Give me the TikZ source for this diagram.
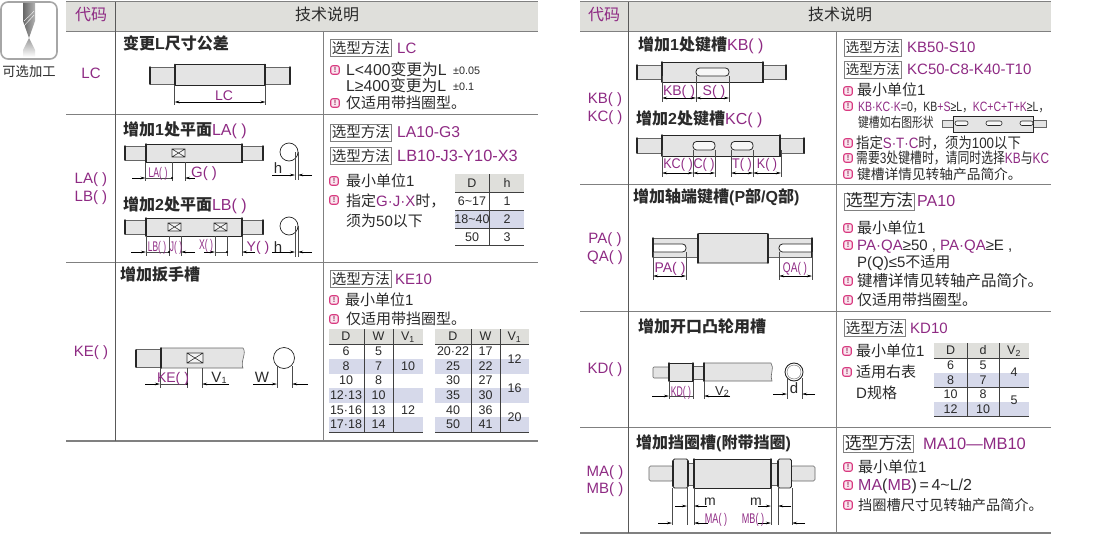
\documentclass[tikz,border=0pt]{standalone}
\usepackage{fontspec}
\setmainfont{Liberation Sans}
\newfontfamily\cjk{Noto Sans CJK SC}
\usetikzlibrary{arrows.meta, shadings}
\definecolor{mg}{HTML}{8E2A83}
\definecolor{hd}{HTML}{DFDFDB}
\definecolor{rl}{HTML}{808080}
\definecolor{lv}{HTML}{D6D9EA}
\definecolor{sg}{HTML}{E4E4E4}
\definecolor{pk}{HTML}{D93A80}
\definecolor{tx}{HTML}{2A2A2A}
\newcommand{\zh}[1]{{\cjk #1}}
\newcommand{\mgt}[1]{\textcolor{mg}{#1}}
\tikzset{
    base/.style={inner sep=0pt, text=tx, text height=11pt, text depth=1pt, font=\fontsize{15}{17}\selectfont},
    lbl/.style={base, anchor=west},
    code/.style={base, text=mg},
    head/.style={base, font=\fontsize{16}{18}\selectfont},
    title/.style={lbl, font=\fontsize{16}{18}\selectfont\bfseries},
    part/.style={lbl, text=mg, font=\fontsize{#1}{17}\selectfont},
    selbox/.style={base, anchor=west, draw=rl, line width=0.8pt, inner xsep=1.5pt, inner ysep=2.5pt, font=\fontsize{#1}{17}\selectfont},
    noteicon/.style={draw=pk, fill=pk!12, line width=1.1pt, rounded corners=2pt, minimum width=8.5pt, minimum height=8.5pt, inner sep=0pt, text=pk!70!black, font=\fontsize{7.5}{7}\selectfont\bfseries},
    dimlbl/.style={base, text=mg, font=\fontsize{14}{15}\selectfont},
    narrow/.style={xscale=#1, transform shape},
    narrow/.default=0.72,
    cell/.style={base, text height=9pt, text depth=1pt, font=\fontsize{12.5}{14}\selectfont},
    tol/.style={lbl, text height=8pt, font=\fontsize{10.8}{12}\selectfont},
    shaft/.style={fill=sg, draw=black!85, line width=0.9pt},
    shaftp/.style={fill=sg, draw=black!60, line width=0.6pt},
    shaftend/.style={draw=black!85, line width=1.5pt, line cap=round},
    slot/.style={fill=white!70!sg, draw=black!85, line width=0.8pt, rounded corners=3.5pt},
    flat/.style={draw=black!80, fill=white!60!sg, line width=0.6pt},
    extl/.style={draw=black!70, line width=0.4pt},
    dim/.style={draw=black, line width=0.5pt, -{Stealth[length=5pt,width=2.5pt]}},
    dimb/.style={draw=black, line width=0.5pt, {Stealth[length=5pt,width=2.5pt]}-{Stealth[length=5pt,width=2.5pt]}},
    rule/.style={draw=rl, line width=1pt},
    tline/.style={draw=black!75, line width=0.7pt},
}
\begin{document}
\begin{tikzpicture}[x=1pt,y=-1pt]
    \useasboundingbox (0,0) rectangle (1110,535);

    % Drill icon
    \draw[rounded corners=7pt, draw=black!35, fill=white, line width=1.6pt] (1,2) rectangle (57,59);
    \shade[left color=black!60, right color=black!30] (23,3) -- (35,3) -- (35,21) -- (29,38) -- (23,21) -- cycle;
    \draw[white, line width=0.4pt] (24,26) .. controls (28,21) and (31,19) .. (34,15);
    \draw[white, line width=0.4pt] (24,21) .. controls (28,17) and (31,15) .. (34,11);
    \shade[top color=black!40, bottom color=white] (29,38) -- (35,50) -- (35,57) -- (23,57) -- (23,50) -- cycle;
    \node[base, font=\fontsize{13.3}{15}\selectfont] (iconName) at (29,71) {\zh{可选加工}};

    % Left table frame
    \fill[hd] (66,2) rectangle (538,31);
    \draw[rule] (66,2) -- (538,2);
    \draw[rule] (66,31.5) -- (538,31.5);
    \draw[rule] (66,114) -- (538,114);
    \draw[rule] (66,262) -- (538,262);
    \draw[rule, line width=1.3pt] (66,441) -- (538,441);
    \draw[rule, draw=black!65] (115,2) -- (115,441);
    \draw[rule] (323,31) -- (323,441);
    \node[code, font=\fontsize{16}{18}\selectfont] (leftCode) at (91,16) {\zh{代码}};
    \node[head] (leftTech) at (327,16) {\zh{技术说明}};

    % Right table frame
    \fill[hd] (580,2) rectangle (1051,31);
    \draw[rule] (580,2) -- (1051,2);
    \draw[rule] (580,31.5) -- (1051,31.5);
    \draw[rule] (580,184) -- (1051,184);
    \draw[rule] (580,311) -- (1051,311);
    \draw[rule] (580,427) -- (1051,427);
    \draw[rule, line width=1.3pt] (580,533) -- (1051,533);
    \draw[rule, draw=black!65] (628,2) -- (628,533);
    \draw[rule] (836,31) -- (836,533);
    \node[code, font=\fontsize{16}{18}\selectfont] (rightCode) at (604,16) {\zh{代码}};
    \node[head] (rightTech) at (840,16) {\zh{技术说明}};

    % Row LC
    \node[code] (codeLC) at (91,73) {LC};
    \node[title] (titleLC) at (123,45) {\zh{变更}L\zh{尺寸公差}};
    \draw[shaftp] (150,67) rectangle (175,84);
    \draw[shaftp] (265,67) rectangle (290,84);
    \draw[shaft] (175,64.5) rectangle (265,85);
    \foreach \x/\a/\b in {150/67/84,175/64.5/85,265/64.5/85,290/67/84} {
            \draw[shaftend] (\x,\a) -- (\x,\b);
        }
    \draw[extl] (174.5,85) -- (174.5,105);
    \draw[extl] (265.5,85) -- (265.5,105);
    \draw[dimb] (174.5,102) -- (265.5,102);
    \node[dimlbl] (dimLC) at (224,95) {LC};
    \node[selbox=14.5] (selLC) at (330,48) {\zh{选型方法}};
    \node[part=15] (partLC) at (397,48) {LC};
    \node[noteicon] (iconLCa) at (335,70) {!};
    \node[lbl, font=\fontsize{15.8}{17}\selectfont] (noteLCa) at (346,70) {L<400\zh{变更为}L};
    \node[tol] (tolLCa) at (453,71) {±0.05};
    \node[lbl, font=\fontsize{15.8}{17}\selectfont] (noteLCb) at (346,86) {L≥400\zh{变更为}L};
    \node[tol] (tolLCb) at (453,87) {±0.1};
    \node[noteicon] (iconLCc) at (335,103) {!};
    \node[lbl] (noteLCc) at (346,103) {\zh{仅适用带挡圈型。}};

    % Row LA / LB
    \node[code] (codeLA) at (91,178) {LA( )};
    \node[code] (codeLB) at (91,196) {LB( )};
    \node[title] (titleLA) at (123,130) {\zh{增加}1\zh{处平面}\textcolor{mg}{\mdseries LA( )}};
    \draw[shaftp] (125,146) rectangle (146,160);
    \draw[shaftp] (242,146) rectangle (263,160);
    \draw[shaft] (146,144) rectangle (242,162);
    \foreach \x/\a/\b in {125/146/160,146/144/162,242/144/162,263/146/160} {
            \draw[shaftend] (\x,\a) -- (\x,\b);
        }
    \draw[flat] (172,149) rectangle (185,157) (172,149) -- (185,157) (172,157) -- (185,149);
    \foreach \x in {145.5,172,185} {
            \draw[extl] (\x,162) -- (\x,181);
        }
    \draw[dim] (132,178) -- (145.5,178);
    \draw[extl] (145.5,178) -- (172,178);
    \fill (172,178) circle (1.2);
    \draw[dim] (195,178) -- (185,178);
    \node[dimlbl, narrow=0.62] (dimLA) at (158,172) {LA( )};
    \node[dimlbl, font=\fontsize{15}{15}\selectfont] (dimG) at (204,172) {G( )};
    \draw[shaft, fill=white, line width=0.7pt] (289,152) circle (9);
    \draw[extl] (295,152) -- (295,180);
    \draw[extl] (298,152) -- (298,180);
    \draw[dim] (272,175) -- (295,175);
    \draw[dim] (312,175) -- (298,175);
    \node[base] (dimHa) at (278,168) {h};

    \node[title] (titleLB) at (123,205) {\zh{增加}2\zh{处平面}\textcolor{mg}{\mdseries LB( )}};
    \draw[shaftp] (125,220) rectangle (146,234);
    \draw[shaftp] (242,220) rectangle (263,234);
    \draw[shaft] (146,218) rectangle (242,236);
    \foreach \x/\a/\b in {125/220/234,146/218/236,242/218/236,263/220/234} {
            \draw[shaftend] (\x,\a) -- (\x,\b);
        }
    \foreach \x in {168,214} {
            \draw[flat] (\x,223) rectangle (\x+13,231) (\x,223) -- (\x+13,231) (\x,231) -- (\x+13,223);
        }
    \foreach \x in {146,169,181,215,227,242} {
            \draw[extl] (\x,236) -- (\x,256);
        }
    \draw[dim] (131,252) -- (146,252);
    \draw[extl] (146,252) -- (169,252);
    \fill (169,252) circle (1.2);
    \draw[dim] (195,252) -- (181,252);
    \draw[dim] (204,252) -- (215,252);
    \draw[extl] (215,252) -- (227,252);
    \fill (227,252) circle (1.2);
    \draw[dim] (255,252) -- (242,252);
    \node[dimlbl, narrow=0.6] (dimLB) at (157,246) {LB( )};
    \node[dimlbl, narrow=0.6] (dimJ) at (176,246) {J( )};
    \node[dimlbl, narrow=0.62] (dimX) at (206,244) {X( )};
    \node[dimlbl] (dimY) at (258,246) {Y( )};
    \draw[shaft, fill=white, line width=0.7pt] (289,226) circle (9);
    \draw[extl] (295,226) -- (295,257);
    \draw[extl] (298,226) -- (298,257);
    \draw[dim] (272,252) -- (295,252);
    \draw[dim] (312,252) -- (298,252);
    \node[base] (dimHb) at (278,247) {h};

    \node[selbox=14.5] (selLA) at (330,132.5) {\zh{选型方法}};
    \node[part=15.7] (partLA) at (397,132.5) {LA10-G3};
    \node[selbox=14.5] (selLB) at (330,156) {\zh{选型方法}};
    \node[part=16.3] (partLB) at (397,156) {LB10-J3-Y10-X3};
    \node[noteicon] (iconLAa) at (334,181) {!};
    \node[lbl] (noteLAa) at (346,181) {\zh{最小单位}1};
    \node[noteicon] (iconLAb) at (334,200) {!};
    \node[lbl] (noteLAb) at (346,201) {\zh{指定}\mgt{G·J·X}\zh{时，}};
    \node[lbl] (noteLAc) at (346,221) {\zh{须为}50\zh{以下}};

    % Table D / h
    \fill[hd] (455,174) rectangle (524,192);
    \fill[lv] (455,210) rectangle (524,228);
    \foreach \y in {192,210,228,245} {
            \draw[tline] (455,\y) -- (524,\y);
        }
    \draw[tline] (489,174) -- (489,245);
    \node[cell] (hdD) at (472,183) {D};
    \node[cell] (hdH) at (507,183) {h};
    \foreach \y/\d/\h [count=\i] in {201/6\textasciitilde17/1, 219/18\textasciitilde40/2, 237/50/3} {
            \node[cell] (hD\i) at (472,\y) {\d};
            \node[cell] (hH\i) at (507,\y) {\h};
        }

    % Row KE
    \node[code] (codeKE) at (91,351) {KE( )};
    \node[title] (titleKE) at (120,275) {\zh{增加扳手槽}};
    \draw[shaftp] (136,349.5) rectangle (162,367);
    \draw[shaftp] (161,348) -- (243,348) .. controls (247,353) and (240,362) .. (243,368) -- (161,368) -- cycle;
    \foreach \x/\a/\b in {136/350/367,161/348/368} {
            \draw[shaftend] (\x,\a) -- (\x,\b);
        }
    \draw[flat] (187,353) rectangle (203,363) (187,353) -- (203,363) (187,363) -- (203,353);
    \foreach \x in {160,187,202} {
            \draw[extl] (\x,368) -- (\x,388);
        }
    \draw[dim] (145,384) -- (160,384);
    \draw[extl] (160,384) -- (187,384);
    \fill (187,384) circle (1.2);
    \draw[dim] (229,384) -- (202,384);
    \node[dimlbl] (dimKE) at (173,377) {KE( )};
    \node[base] (dimV) at (219,377) {V\raisebox{-1pt}{\fontsize{9}{9}\selectfont 1}};
    \draw[shaft, fill=white, line width=0.7pt] (284,358) circle (10.5);
    \draw[extl] (277,366) -- (277,388);
    \draw[extl] (292,366) -- (292,388);
    \draw[dim] (253,384) -- (277,384);
    \draw[dim] (308,384) -- (292,384);
    \node[base] (dimW) at (262,377) {W};
    \node[selbox=14.5] (selKE) at (330,279) {\zh{选型方法}};
    \node[part=15] (partKE) at (395,279) {KE10};
    \node[noteicon] (iconKEa) at (334,300) {!};
    \node[lbl] (noteKEa) at (345,300) {\zh{最小单位}1};
    \node[noteicon] (iconKEb) at (334,319) {!};
    \node[lbl] (noteKEb) at (346,319) {\zh{仅适用带挡圈型。}};

    % Tables D / W / V1
    \foreach \xa/\xb/\xc/\xd in {329/364/393/423, 435/471/500/529} {
            \fill[hd] (\xa,329) rectangle (\xd,344);
            \foreach \y in {359,388,417} {
                    \fill[lv] (\xa,\y) rectangle (\xd,\y+14.5);
                }
            \draw[tline] (\xa,344) -- (\xd,344);
            \draw[tline] (\xa,432) -- (\xd,432);
            \draw[tline] (\xb,329) -- (\xb,432);
            \draw[tline] (\xc,329) -- (\xc,432);
        }
    \foreach \x/\t [count=\i] in {346/D, 378.5/W, 408/V\textsubscript{1}, 453/D, 485.5/W, 514.5/V\textsubscript{1}} {
            \node[cell] (keyHd\i) at (\x,336.5) {\t};
        }
    \foreach \y/\d/\w [count=\i] in {351.5/6/5, 366/8/7, 380.5/10/8, 395/12·13/10, 410/15·16/13, 424.5/17·18/14} {
            \node[cell] (keyD\i) at (346,\y) {\d};
            \node[cell] (keyW\i) at (378.5,\y) {\w};
        }
    \foreach \y/\d/\w [count=\i] in {351.5/20·22/17, 366/25/22, 380.5/30/27, 395/35/30, 410/40/36, 424.5/50/41} {
            \node[cell] (keyDd\i) at (453,\y) {\d};
            \node[cell] (keyWw\i) at (485.5,\y) {\w};
        }
    \node[cell] (keyVa) at (408,366) {10};
    \node[cell] (keyVb) at (408,410) {12};
    \node[cell] (keyVc) at (514.5,359) {12};
    \node[cell] (keyVd) at (514.5,388) {16};
    \node[cell] (keyVe) at (514.5,417) {20};

    % Row KB / KC
    \node[code] (codeKB) at (605,98) {KB( )};
    \node[code] (codeKC) at (605,116) {KC( )};
    \node[title] (titleKB) at (638,46) {\zh{增加}1\zh{处键槽}\textcolor{mg}{\mdseries KB( )}};
    \draw[shaftp] (637,65) rectangle (662,79.5);
    \draw[shaftp] (763,65) rectangle (786,79.5);
    \draw[shaft] (662,62) rectangle (763,82);
    \foreach \x/\a/\b in {637/65/79.5,662/62/82,763/62/82,786/65/79.5} {
            \draw[shaftend] (\x,\a) -- (\x,\b);
        }
    \draw[slot] (696,68) rectangle (729,76);
    \foreach \x in {662,696,729} {
            \draw[extl] (\x,76) -- (\x,102);
        }
    \draw[dimb] (662,98) -- (696,98);
    \draw[dimb] (696,98) -- (729,98);
    \node[dimlbl] (dimKB) at (679,90) {KB( )};
    \node[dimlbl] (dimS) at (714,90) {S( )};

    \node[title] (titleKC) at (636,119) {\zh{增加}2\zh{处键槽}\textcolor{mg}{\mdseries KC( )}};
    \draw[shaftp] (637,138) rectangle (662,153);
    \draw[shaftp] (780,138) rectangle (804,153);
    \draw[shaft] (662,135) rectangle (780,156);
    \foreach \x/\a/\b in {637/138/153,662/135/156,780/135/156,804/138/153} {
            \draw[shaftend] (\x,\a) -- (\x,\b);
        }
    \draw[slot] (693,141.5) rectangle (715,150);
    \draw[slot] (731,141.5) rectangle (753,150);
    \foreach \x in {662,693,715,731,753,781} {
            \draw[extl] (\x,150) -- (\x,177);
        }
    \foreach \a/\b in {662/693,693/715,731/753,753/781} {
            \draw[dimb] (\a,173) -- (\b,173);
        }
    \node[dimlbl, narrow=0.9] (dimKC) at (678,163) {KC( )};
    \node[dimlbl, narrow=0.9] (dimC) at (704,163) {C( )};
    \node[dimlbl, narrow=0.9] (dimT) at (742,163) {T( )};
    \node[dimlbl, narrow=0.9] (dimK) at (767,163) {K( )};

    \node[selbox=13.5] (selKB) at (844,47.5) {\zh{选型方法}};
    \node[part=15] (partKB) at (907,47.5) {KB50-S10};
    \node[selbox=13.5] (selKC) at (844,69.5) {\zh{选型方法}};
    \node[part=15] (partKC) at (907,69.5) {KC50-C8-K40-T10};
    \node[noteicon] (iconKBa) at (848,91) {!};
    \node[lbl] (noteKBa) at (857,90) {\zh{最小单位}1};
    \node[noteicon] (iconKBb) at (848,106) {!};
    \node[lbl, narrow=0.78, text=mg, font=\fontsize{13.5}{15}\selectfont] (noteKBb) at (858,106) {KB·KC·K\textcolor{tx}{=0\zh{，}KB}+S\textcolor{tx}{≥L\zh{，}}KC+C+T+K\textcolor{tx}{≥L\zh{，}}};
    \node[lbl, narrow=0.8, font=\fontsize{13.5}{15}\selectfont] (noteKBc) at (858,122) {\zh{键槽如右图形状}};
    \draw[shaftp] (942,120) rectangle (953,127);
    \draw[shaftp] (1033,120) rectangle (1046,127);
    \draw[shaft, line width=0.6pt] (953,116) rectangle (1033,132);
    \draw[slot, line width=0.6pt, rounded corners=2pt] (955,121) rectangle (968,125.5);
    \draw[slot, line width=0.6pt, rounded corners=2pt] (986,121) rectangle (1002,125.5);
    \draw[slot, line width=0.6pt, rounded corners=2pt] (1020,121) rectangle (1033,125.5);
    \node[noteicon] (iconKBd) at (848,143) {!};
    \node[lbl, narrow=0.89] (noteKBd) at (856,143) {\zh{指定}\mgt{S·T·C}\zh{时，须为}100\zh{以下}};
    \node[noteicon] (iconKBe) at (848,158) {!};
    \node[lbl, narrow=0.79] (noteKBe) at (856,158) {\zh{需要}3\zh{处键槽时，请同时选择}\mgt{KB}\zh{与}\mgt{KC}};
    \node[noteicon] (iconKBf) at (848,174) {!};
    \node[lbl, font=\fontsize{13.7}{16}\selectfont] (noteKBf) at (857,174) {\zh{键槽详情见转轴产品简介。}};

    % Row PA / QA
    \node[code] (codePA) at (605,238) {PA( )};
    \node[code] (codeQA) at (605,256) {QA( )};
    \node[title] (titlePA) at (633,197) {\zh{增加轴端键槽}(P\zh{部}/Q\zh{部})};
    \draw[shaftp] (653,238) rectangle (698,257);
    \draw[shaftp] (768,238) rectangle (812,257);
    \draw[slot, fill=white] (653,244) -- (686,244) -- (686,252) -- (653,252);
    \draw[slot, fill=white] (812,244) -- (779,244) -- (779,252) -- (812,252);
    \draw[shaft, rounded corners=1pt] (698,233.5) rectangle (768,263);
    \foreach \x/\a/\b in {653/238/257,698/234/263,768/234/263,812/238/257} {
            \draw[shaftend] (\x,\a) -- (\x,\b);
        }
    \foreach \x in {653,686} {
            \draw[extl] (\x,252) -- (\x,280);
        }
    \foreach \x in {779,812} {
            \draw[extl] (\x,252) -- (\x,280);
        }
    \draw[dimb] (653,276) -- (686,276);
    \draw[dimb] (779,276) -- (812,276);
    \node[dimlbl] (dimPA) at (670,267) {PA( )};
    \node[dimlbl, narrow] (dimQA) at (795,267) {QA( )};
    \node[selbox=16.8] (selPA) at (844,201.5) {\zh{选型方法}};
    \node[part=16] (partPA) at (917,201.5) {PA10};
    \node[noteicon] (iconPAa) at (848,228) {!};
    \node[lbl] (notePAa) at (857,228) {\zh{最小单位}1};
    \node[noteicon] (iconPAb) at (848,245) {!};
    \node[lbl] (notePAb) at (857,245) {\mgt{PA·QA}≥50 , \mgt{PA·QA}≥E ,};
    \node[lbl] (notePAc) at (857,262) {P(Q)≤5\zh{不适用}};
    \node[noteicon] (iconPAd) at (848,281) {!};
    \node[lbl, font=\fontsize{15.5}{17}\selectfont] (notePAd) at (857,281) {\zh{键槽详情见转轴产品简介。}};
    \node[noteicon] (iconPAe) at (848,300) {!};
    \node[lbl] (notePAe) at (857,300) {\zh{仅适用带挡圈型。}};

    % Row KD
    \node[code] (codeKD) at (605,368) {KD( )};
    \node[title] (titleKD) at (638,327) {\zh{增加开口凸轮用槽}};
    \draw[shaftp, rounded corners=1pt] (653,367) rectangle (669,378);
    \draw[shaft] (669,363) rectangle (693,381);
    \draw[shaftp] (693,366) rectangle (704,379);
    \draw[shaftp] (704,363) -- (771,363) .. controls (775,368) and (769,376) .. (772,381) -- (704,381) -- cycle;
    \foreach \x/\a/\b in {669/363/381,693/363/381,704/363/381} {
            \draw[shaftend] (\x,\a) -- (\x,\b);
        }
    \foreach \x in {669,693,704} {
            \draw[extl] (\x,381) -- (\x,399);
        }
    \draw[dim] (652,396) -- (669,396);
    \draw[extl] (669,396) -- (693,396);
    \draw[dim] (730,396) -- (704,396);
    \node[dimlbl, narrow=0.62] (dimKD) at (681,391) {KD( )};
    \node[base, font=\fontsize{13}{15}\selectfont] (dimVb) at (722,390) {V\raisebox{-1pt}{\fontsize{9}{9}\selectfont 2}};
    \draw[shaft, line width=0.9pt, fill=white] (794,372) circle (9);
    \draw[draw=black!60] (794,372) circle (7);
    \draw[extl] (787,378) -- (787,399);
    \draw[extl] (802,378) -- (802,399);
    \draw[dim] (773,394) -- (787,394);
    \draw[dim] (815,394) -- (802,394);
    \node[base, font=\fontsize{15}{15}\selectfont] (dimD) at (794,388) {d};
    \node[selbox=14.5] (selKD) at (844,328) {\zh{选型方法}};
    \node[part=15] (partKD) at (910,328) {KD10};
    \node[noteicon] (iconKDa) at (847,351) {!};
    \node[lbl] (noteKDa) at (856,351) {\zh{最小单位}1};
    \node[noteicon] (iconKDb) at (847,372) {!};
    \node[lbl] (noteKDb) at (856,372) {\zh{适用右表}};
    \node[lbl] (noteKDc) at (856,393) {D\zh{规格}};

    % Table D / d / V2
    \fill[hd] (934,343) rectangle (1029,358);
    \foreach \y in {373,402} {
            \fill[lv] (934,\y) rectangle (1029,\y+14);
        }
    \draw[tline] (934,358) -- (1029,358);
    \draw[tline] (934,387) -- (1029,387);
    \draw[tline] (934,416) -- (1029,416);
    \draw[tline] (967,343) -- (967,416);
    \draw[tline] (999,343) -- (999,416);
    \node[cell] (kdHdD) at (950.5,350.5) {D};
    \node[cell] (kdHdd) at (983,350.5) {d};
    \node[cell] (kdHdV) at (1014,350.5) {V\textsubscript{2}};
    \foreach \y/\d/\w [count=\i] in {365.5/6/5, 380/8/7, 394.5/10/8, 409/12/10} {
            \node[cell] (kdD\i) at (950.5,\y) {\d};
            \node[cell] (kdW\i) at (983,\y) {\w};
        }
    \node[cell] (kdVa) at (1014,372) {4};
    \node[cell] (kdVb) at (1014,400) {5};

    % Row MA / MB
    \node[code] (codeMA) at (605,471) {MA( )};
    \node[code] (codeMB) at (605,488) {MB( )};
    \node[title] (titleMA) at (636,443) {\zh{增加挡圈槽}(\zh{附带挡圈})};
    \draw[shaftp, rounded corners=1.5pt] (649,466) rectangle (673,481);
    \draw[shaftp, rounded corners=1.5pt] (791,466) rectangle (815,481);
    \draw[shaftp] (688,463) rectangle (694,485);
    \draw[shaftp] (771,463) rectangle (778,485);
    \draw[shaft, rounded corners=1.5pt] (673,459) rectangle (688,488);
    \draw[shaft, rounded corners=1.5pt] (778,459) rectangle (791.5,488);
    \draw[shaft] (694,459) rectangle (771,488);
    \foreach \x/\a/\b in {673/461/486,688/461/486,694/459/488,771/459/488,778/461/486,791.5/461/486} {
            \draw[shaftend] (\x,\a) -- (\x,\b);
        }
    \foreach \x in {672,687,694,771,778,792} {
            \draw[extl] (\x,488) -- (\x,525);
        }
    \draw[dim] (675,506) -- (687,506);
    \draw[dim] (707,506) -- (694,506);
    \draw[dim] (758,506) -- (771,506);
    \draw[dim] (791,506) -- (778,506);
    \draw[dim] (658,523) -- (672,523);
    \draw[dim] (708,523) -- (694,523);
    \draw[dim] (758,523) -- (771,523);
    \draw[dim] (805,523) -- (792,523);
    \node[base, font=\fontsize{14}{15}\selectfont] (dimMa) at (710,500) {m};
    \node[base, font=\fontsize{14}{15}\selectfont] (dimMb) at (756,500) {m};
    \node[dimlbl, narrow=0.65] (dimMA) at (716,518) {MA( )};
    \node[dimlbl, narrow=0.65] (dimMB) at (753,518) {MB( )};
    \node[selbox=16.8] (selMA) at (843,444) {\zh{选型方法}};
    \node[part=16.5] (partMA) at (923,444) {MA10—MB10};
    \node[noteicon] (iconMAa) at (848,467) {!};
    \node[lbl] (noteMAa) at (858,467) {\zh{最小单位}1};
    \node[noteicon] (iconMAb) at (848,485) {!};
    \node[lbl, font=\fontsize{16}{18}\selectfont] (noteMAb) at (858,485) {\mgt{MA}(\mgt{MB})\,=\,4\textasciitilde L/2};
    \node[noteicon] (iconMAc) at (848,505) {!};
    \node[lbl, font=\fontsize{14.2}{16}\selectfont] (noteMAc) at (858,505) {\zh{挡圈槽尺寸见转轴产品简介。}};
\end{tikzpicture}
\end{document}
